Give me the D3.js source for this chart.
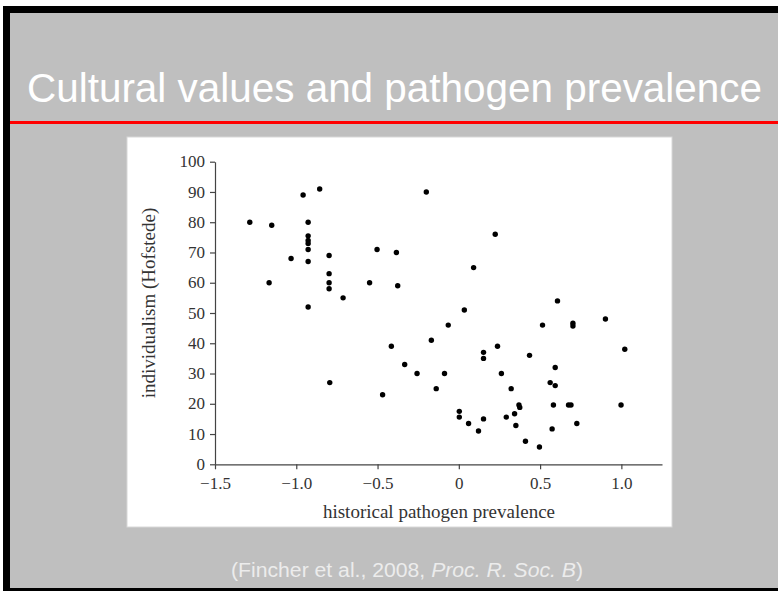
<!DOCTYPE html>
<html>
<head>
<meta charset="utf-8">
<script src="https://cdn.jsdelivr.net/npm/d3@7"></script>
<style>
  html, body { margin: 0; padding: 0; background: #ffffff; }
  svg { display: block; }
</style>
</head>
<body>
<svg id="chart" width="778" height="591"></svg>
<script>
// ---- data ----
const pathogen = [
  -1.286, -1.151, -1.167, -1.032, -0.958, -0.856, -0.927, -0.927, -0.927, -0.927,
  -0.927, -0.927, -0.927, -0.798, -0.798, -0.798, -0.798, -0.794, -0.712, -0.549,
  -0.503, -0.384, -0.376, -0.200, 0.091, 0.034, -0.065, -0.169, -0.415, 0.152,
  0.152, 0.238, 0.435, -0.333, -0.257, -0.088, 0.262, -0.139, 0.322, -0.469,
  0.370, 0.375, 0.343, 0.292, 0.351, 0.003, 0.003, 0.060, 0.152, 0.121,
  0.410, 0.496, 0.607, 0.515, 0.702, 0.702, 0.902, 1.021, 0.593, 0.562,
  0.593, 0.582, 0.675, 0.690, 0.998, 0.726, 0.574, 0.224
];
const individualism = [
  80, 79, 60, 68, 89, 91, 80, 75.5, 74, 73,
  71, 67, 52, 69, 63, 60, 58, 27, 55, 60,
  71, 70, 59, 90, 65, 51, 46, 41, 39, 37,
  35, 39, 36, 33, 30, 30, 30, 25, 25, 23,
  19.6, 18.8, 16.7, 15.6, 12.8, 17.5, 15.6, 13.5, 15, 11,
  7.6, 5.7, 54, 46, 46.6, 45.7, 48, 38, 32, 27,
  26, 19.6, 19.6, 19.6, 19.6, 13.5, 11.7, 76
];
const xTicks = [-1.5, -1.0, -0.5, 0, 0.5, 1.0];
const xTickLabels = ["\u22121.5", "\u22121.0", "\u22120.5", "0", "0.5", "1.0"];
const yTicks = [0, 10, 20, 30, 40, 50, 60, 70, 80, 90, 100];
const yTickLabels = ["0", "10", "20", "30", "40", "50", "60", "70", "80", "90", "100"];
const titleText = "Cultural values and pathogen prevalence";
const xLabel = "historical pathogen prevalence";
const yLabel = "individualism (Hofstede)";

const points = pathogen.map((p, i) => ({ x: p, y: individualism[i] }));

const svg = d3.select("#chart");

// slide background
svg.append("rect").attr("x", 3).attr("y", 6).attr("width", 775).attr("height", 585).attr("fill", "#000");
svg.append("rect").attr("x", 10).attr("y", 13).attr("width", 768).attr("height", 575).attr("fill", "#bfbfbf");

// title
svg.append("text")
  .attr("x", 27).attr("y", 102)
  .attr("font-family", "Liberation Sans, Arial, sans-serif")
  .attr("font-size", 41)
  .attr("fill", "#ffffff")
  .attr("textLength", 735)
  .attr("lengthAdjust", "spacingAndGlyphs")
  .text(titleText);

// red rule
svg.append("rect").attr("x", 10).attr("y", 121).attr("width", 768).attr("height", 3).attr("fill", "#ff0000");

// white figure panel
svg.append("rect").attr("x", 127).attr("y", 137).attr("width", 545).attr("height", 390)
  .attr("fill", "#ffffff").attr("stroke", "#d8d8d8").attr("stroke-width", 1);

// scales
const x = d3.scaleLinear().domain([-1.5, 1.25]).range([215, 662]);
const y = d3.scaleLinear().domain([0, 100]).range([464.3, 161.7]);

const axisColor = "#444";
const serif = "Liberation Serif, Times New Roman, serif";

const gx = svg.append("g").attr("transform", `translate(0,${y(0)})`)
  .call(d3.axisBottom(x).tickValues(xTicks)
    .tickFormat((d, i) => xTickLabels[i]).tickSize(5).tickSizeOuter(0).tickPadding(8));
const gy = svg.append("g").attr("transform", `translate(${x(-1.5)},0)`)
  .call(d3.axisLeft(y).tickValues(yTicks)
    .tickFormat((d, i) => yTickLabels[i]).tickSize(5).tickSizeOuter(0).tickPadding(5));

[gx, gy].forEach(g => {
  g.select(".domain").attr("stroke", axisColor).attr("stroke-width", 1.2);
  g.selectAll(".tick line").attr("stroke", axisColor).attr("stroke-width", 1.2);
  g.selectAll(".tick text").attr("fill", "#333").attr("font-family", serif).attr("font-size", 17);
});
gy.selectAll(".tick text").attr("dy", "0.3em");

// axis labels
svg.append("text")
  .attr("x", 439).attr("y", 518)
  .attr("text-anchor", "middle")
  .attr("font-family", serif).attr("font-size", 19).attr("fill", "#333")
  .text(xLabel);
svg.append("text")
  .attr("transform", "translate(155,303) rotate(-90)")
  .attr("text-anchor", "middle")
  .attr("font-family", serif).attr("font-size", 19).attr("fill", "#333")
  .text(yLabel);

// points
svg.append("g").selectAll("circle").data(points).join("circle")
  .attr("cx", d => x(d.x)).attr("cy", d => y(d.y))
  .attr("r", 2.7).attr("fill", "#000");

// caption
const cap = svg.append("text")
  .attr("x", 231).attr("y", 577)
  .attr("font-family", "Liberation Sans, Arial, sans-serif")
  .attr("font-size", 20)
  .attr("fill", "#ececec")
  .attr("textLength", 352)
  .attr("lengthAdjust", "spacingAndGlyphs");
cap.append("tspan").text("(Fincher et al., 2008, ");
cap.append("tspan").attr("font-style", "italic").text("Proc. R. Soc. B");
cap.append("tspan").text(")");
</script>
</body>
</html>
